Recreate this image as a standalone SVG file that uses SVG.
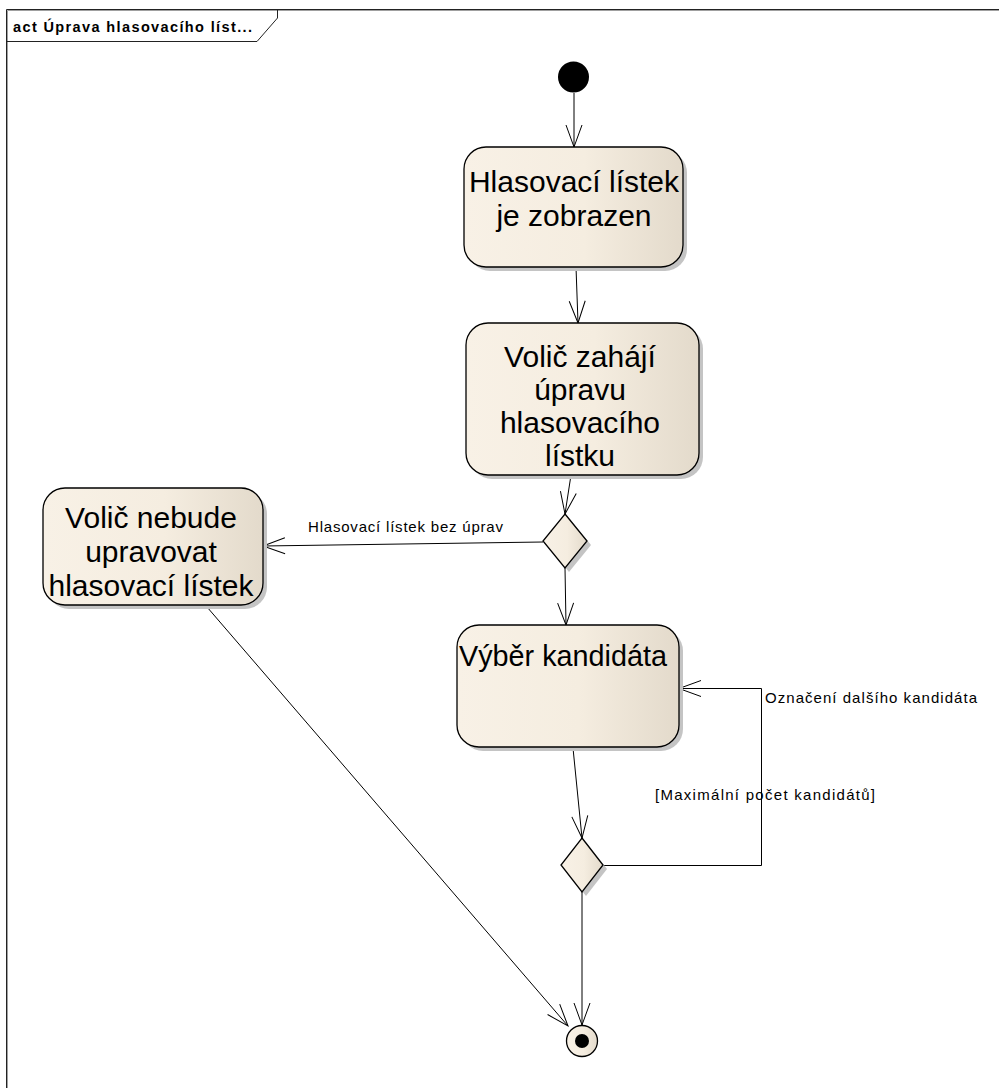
<svg xmlns="http://www.w3.org/2000/svg" width="999" height="1088" viewBox="0 0 999 1088">
  <style>
    .node { stroke: #000; stroke-width: 1.3; fill: url(#fillGrad); }
    .shadow { fill: #c4c4c4; stroke: none; }
    .big { font-family: "Liberation Sans", Arial, sans-serif; font-size: 30px; fill: #000; text-anchor: middle; }
    .lbl { font-family: "Liberation Sans", Arial, sans-serif; font-size: 15px; fill: #000; }
    .edge { fill: none; stroke: #000; stroke-width: 1; marker-end: url(#open); }
    .frame { fill: none; stroke: #222; stroke-width: 1; }
    .frameShadow { fill: none; stroke: #a0a0a0; stroke-width: 1; }
  </style>
  <defs>
    <linearGradient id="fillGrad" x1="0" y1="0" x2="1" y2="0">
      <stop offset="0" stop-color="#f8f1e6"/>
      <stop offset="0.55" stop-color="#f5ede0"/>
      <stop offset="1" stop-color="#e3dacb"/>
    </linearGradient>
    <marker id="open" markerUnits="userSpaceOnUse" markerWidth="30" markerHeight="30" refX="0" refY="0" orient="auto" overflow="visible">
      <path d="M -22 -8 L 0 0 L -22 8" fill="none" stroke="#000" stroke-width="1"/>
    </marker>
  </defs>

  <rect width="999" height="1088" fill="#fff"/>

  <!-- diagram frame with title tab -->
  <g id="frame">
    <path class="frameShadow" d="M 7.5 1088 V 10.5 H 999"/>
    <path class="frame" d="M 6.5 1088 V 9.5 H 999"/>
    <path class="frame" d="M 6.5 41.5 H 257 L 277.5 18 V 9.5"/>
    <text x="13" y="32" font-family="Liberation Sans, Arial, sans-serif" font-size="14.5" font-weight="bold" textLength="239" lengthAdjust="spacing">act Úprava hlasovacího líst...</text>
  </g>

  <!-- connectors -->
  <g id="connectors">
    <line class="edge" x1="574" y1="93" x2="574" y2="147"/>
    <line class="edge" x1="576" y1="267" x2="578" y2="323"/>
    <line class="edge" x1="571" y1="475" x2="565" y2="514"/>
    <line class="edge" x1="543" y1="542" x2="263" y2="546"/>
    <line class="edge" x1="565" y1="568" x2="566" y2="625"/>
    <line class="edge" x1="573" y1="748" x2="582" y2="838"/>
    <path class="edge" d="M 603 865.5 H 761.5 V 688.5 H 679"/>
    <line class="edge" x1="582" y1="892" x2="582" y2="1025"/>
    <line class="edge" x1="207" y1="607" x2="568" y2="1026"/>
    <text class="lbl" x="308" y="532" textLength="195" lengthAdjust="spacing">Hlasovací lístek bez úprav</text>
    <text class="lbl" x="765" y="703" textLength="212" lengthAdjust="spacing">Označení dalšího kandidáta</text>
    <text class="lbl" x="655" y="800" textLength="220" lengthAdjust="spacing">[Maximální počet kandidátů]</text>
  </g>

  <!-- start -->
  <g id="start">
    <circle cx="573.5" cy="77" r="15.5" fill="#000"/>
  </g>

  <g id="hlasovaci-listek-zobrazen">
    <rect class="shadow" x="468" y="151" width="219" height="120" rx="22"/>
    <rect class="node" x="464" y="147" width="219" height="120" rx="22"/>
    <text class="big" x="574" y="192">Hlasovací lístek</text>
    <text class="big" x="574" y="226">je zobrazen</text>
  </g>

  <g id="volic-zahaji-upravu">
    <rect class="shadow" x="470" y="327" width="233" height="152" rx="22"/>
    <rect class="node" x="466" y="323" width="233" height="152" rx="22"/>
    <text class="big" x="580" y="367">Volič zahájí</text>
    <text class="big" x="580" y="400">úpravu</text>
    <text class="big" x="580" y="433">hlasovacího</text>
    <text class="big" x="580" y="466">lístku</text>
  </g>

  <g id="rozhodnuti-uprava">
    <path class="shadow" d="M 569 518 L 591 545 L 569 572 L 547 545 Z"/>
    <path class="node" d="M 565 514 L 587 541 L 565 568 L 543 541 Z"/>
  </g>

  <g id="volic-nebude-upravovat">
    <rect class="shadow" x="47" y="492" width="220" height="117" rx="22"/>
    <rect class="node" x="43" y="488" width="220" height="117" rx="22"/>
    <text class="big" x="151" y="528">Volič nebude</text>
    <text class="big" x="151" y="562">upravovat</text>
    <text class="big" x="151" y="596">hlasovací lístek</text>
  </g>

  <g id="vyber-kandidata">
    <rect class="shadow" x="461" y="629" width="222" height="122" rx="22"/>
    <rect class="node" x="457" y="625" width="222" height="122" rx="22"/>
    <text class="big" x="563" y="666" textLength="208" lengthAdjust="spacingAndGlyphs">Výběr kandidáta</text>
  </g>

  <g id="rozhodnuti-pocet">
    <path class="shadow" d="M 586 842 L 607 869 L 586 896 L 565 869 Z"/>
    <path class="node" d="M 582 838 L 603 865 L 582 892 L 561 865 Z"/>
  </g>

  <!-- end -->
  <g id="konec">
    <circle cx="582" cy="1041" r="15.5" fill="url(#fillGrad)" stroke="#000" stroke-width="1.3"/>
    <circle cx="582" cy="1041" r="7" fill="#000"/>
  </g>
</svg>
